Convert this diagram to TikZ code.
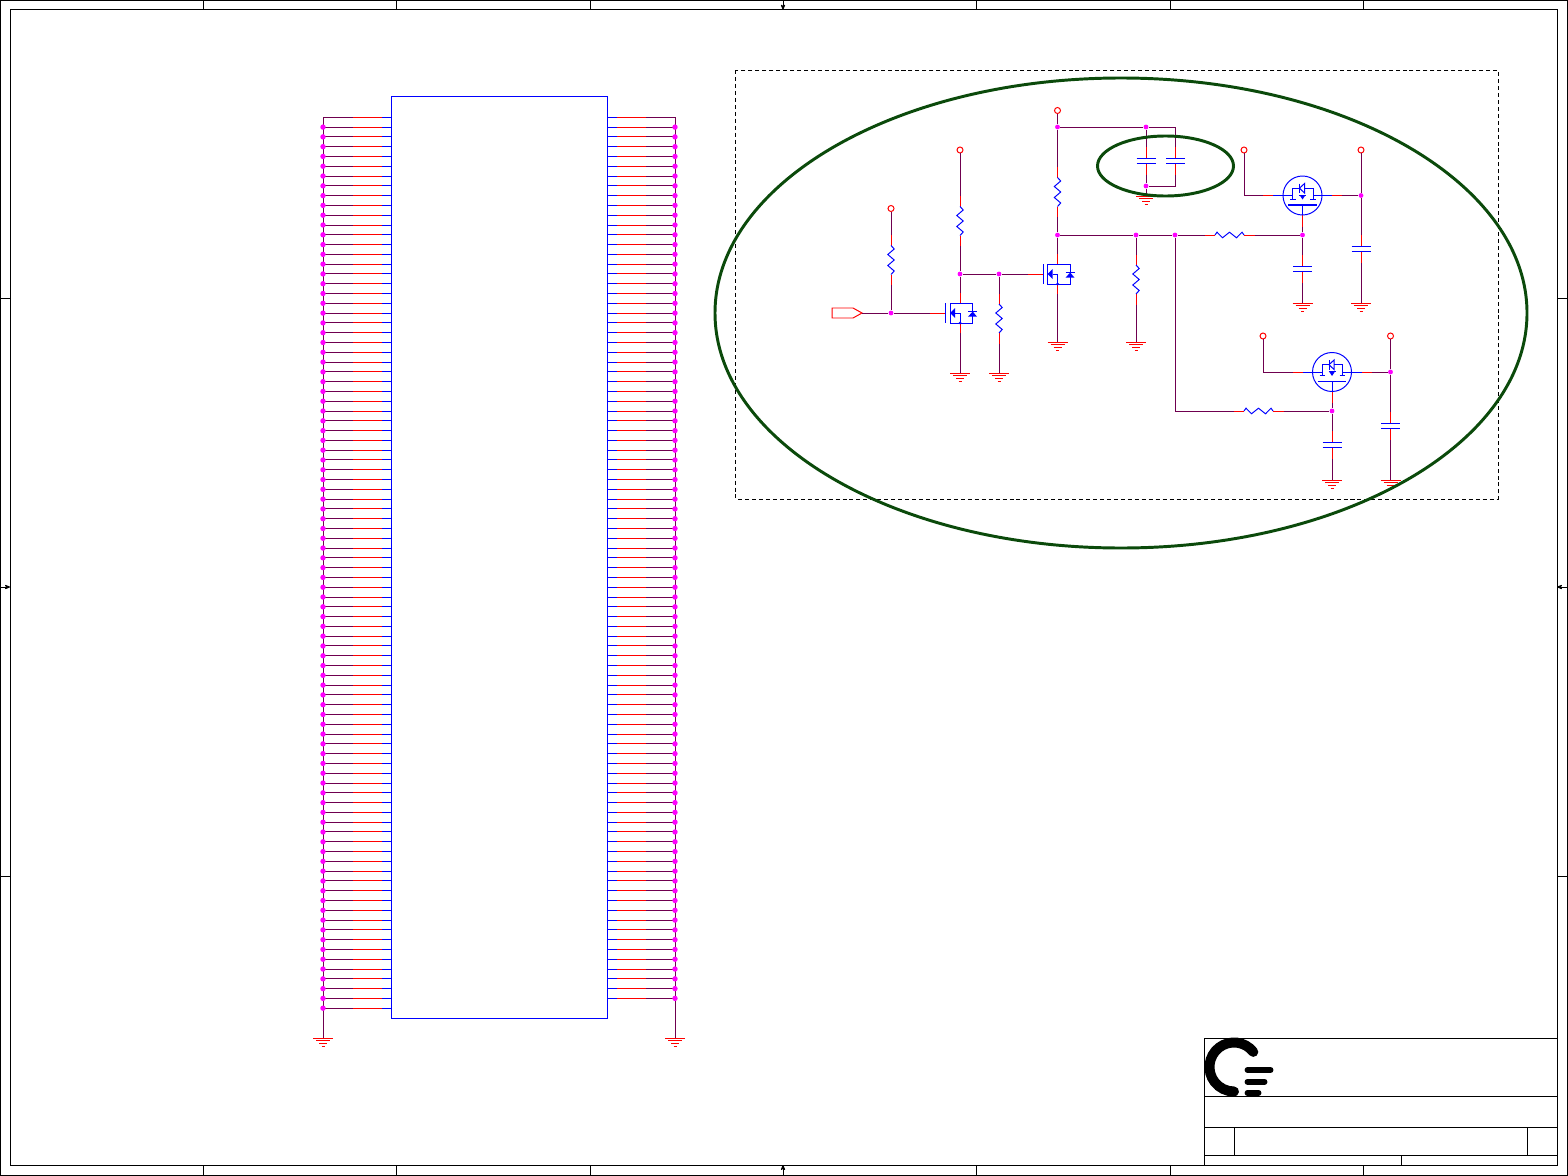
\documentclass[tikz,border=0pt]{standalone}
\usetikzlibrary{arrows,calc}
\definecolor{netcol}{HTML}{6F004F}
\definecolor{markcol}{HTML}{0B4A0B}
\definecolor{dotcol}{HTML}{FF00FF}
\begin{document}
\begin{tikzpicture}
        [x=.05cm, y=-.05cm, line width=1.4pt,
        wire/.style={draw=netcol},
        lead/.style={draw=red},
        part/.style={draw=blue},
        frame/.style={draw=black},
        junct/.style={circle,fill=dotcol,inner sep=0pt,minimum size=.24cm},
        bigdot/.style={circle,fill=dotcol,inner sep=0pt,minimum size=.27cm},
        vcc/.style={circle,draw=red,fill=white,inner sep=0pt,minimum size=.3cm},
        connbox/.style={rectangle,draw=blue,inner sep=0pt,minimum width=10.8cm,minimum height=46.1cm},
        arr/.style={->,>=stealth',draw=black},
        markring/.style={draw=markcol,line width=4.2pt},
        logo/.style={draw=black,line cap=round},
        pics/gnd/.style={code={
          \coordinate (-a) at (0,0);
          \draw[lead] (-10,0) -- (10,0) (-7,2.2) -- (7,2.2) (-4,5) -- (4,5) (-1.5,8) -- (1.5,8);}},
        pics/resv/.style={code={
          \coordinate (-a) at (0,-25);
          \coordinate (-b) at (0,25);
          \draw[lead] (-a) -- (0,-14.5) (0,14.5) -- (-b);
          \draw[part] (0,-14.5) -- (3.2,-11) -- (-3.2,-5.5) -- (3.2,0) -- (-3.2,5.5) -- (3.2,11) -- (0,14.5);}},
        pics/resh/.style={code={
          \coordinate (-a) at (-25,0);
          \coordinate (-b) at (25,0);
          \draw[lead] (-a) -- (-14.5,0) (14.5,0) -- (-b);
          \draw[part] (-14.5,0) -- (-12.5,-2.8) -- (-7,2.8) -- (0,-2.8) -- (7,2.8) -- (12.5,-2.8) -- (14.5,0);}},
        pics/capv/.style={code={
          \coordinate (-a) at (0,-14);
          \coordinate (-b) at (0,14);
          \draw[lead] (-a) -- (0,-2.5) (0,2.5) -- (-b);
          \draw[part] (-9.5,-2.5) -- (9.5,-2.5) (-9.5,2.5) -- (9.5,2.5);}},
        pics/nmos/.style={code={
          \coordinate (-g) at (-30,0);
          \coordinate (-d) at (0,-20);
          \coordinate (-s) at (0,20);
          \draw[lead] (-g) -- (-14.5,0) (-d) -- (0,-10) (0,10) -- (-s);
          \draw[part] (-14.5,-10) -- (-14.5,10);
          \draw[part] (-10,-10) rectangle (12.7,10);
          \draw[part] (-5,0) -- (0,0) -- (0,10);
          \fill[blue] (-10,0) -- (-5,-5) -- (-5,5) -- cycle;
          \fill[blue] (0,10) circle (1.5);
          \draw[part] (8,-1.5) -- (17,-1.5);
          \fill[blue] (12.7,-1.5) -- (8,3.7) -- (17,3.7) -- cycle;}},
        pics/pmos/.style={code={
          \coordinate (-l) at (-39.5,0);
          \coordinate (-r) at (39.5,0);
          \coordinate (-g) at (0,31);
          \draw[lead] (-l) -- (-29.5,0) (29.5,0) -- (-r) (0,19.5) -- (-g);
          \draw[part] (0,0) circle (19.5);
          \draw[part] (-29.5,0) -- (-10,0) (10.5,0) -- (29.5,0);
          \draw[part] (-12.5,3.5) -- (-7,3.5) (7.5,3.5) -- (13,3.5);
          \draw[part] (-10,3.5) -- (-10,-7.3) -- (-3,-7.3) (-3,-12) -- (-3,-2.5);
          \draw[part] (-3,-7.3) -- (2,-12) -- (2,-2.5) -- cycle;
          \draw[part] (2,-7.3) -- (10.5,-7.3) -- (10.5,3.5);
          \draw[part] (-3.5,-.5) -- (3.5,-.5) (0,9) -- (0,19.5);
          \fill[blue] (0,4) -- (-3,-.5) -- (3,-.5) -- cycle;
          \draw[part,line width=2.8pt] (-14.3,9.5) -- (14.3,9.5);}}]
        \fill[white] (0,0) rectangle (1568,1176);
        \useasboundingbox (0,0) rectangle (1568,1176);
        % sheet frame
        \draw[frame] (.7,.7) rectangle (1567,1175);
        \draw[frame] (10,9.7) rectangle (1557,1165);
        \foreach \x in {203,396,590,976,1170,1363} {
          \draw[frame] (\x,.7) -- (\x,9.7);
          \draw[frame] (\x,1165) -- (\x,1175);
        }
        \foreach \y in {298,876} {
          \draw[frame] (.7,\y) -- (10,\y);
          \draw[frame] (1557,\y) -- (1567,\y);
        }
        \draw[arr] (783,.7) -- (783,9.7);
        \draw[arr] (783,1175) -- (783,1165);
        \draw[arr] (.7,587) -- (10,587);
        \draw[arr] (1567,587) -- (1557,587);
        % title block
        \draw[frame] (1204.5,1165) -- (1204.5,1038) -- (1557,1038);
        \draw[frame] (1204.5,1096) -- (1557,1096);
        \draw[frame] (1204.5,1127) -- (1557,1127);
        \draw[frame] (1204.5,1155) -- (1557,1155);
        \draw[frame] (1234,1127) -- (1234,1155);
        \draw[frame] (1527,1127) -- (1527,1155);
        \draw[frame] (1401,1155) -- (1401,1165);
        \draw[logo,line width=14.2pt] (1253.3,1051.9) arc[start angle=-38,end angle=-270,radius=24.5];
        \draw[logo,line width=8.4pt] (1247.5,1070) -- (1270.5,1070);
        \draw[logo,line width=8.4pt] (1247.5,1081.7) -- (1264.5,1081.7);
        \draw[logo,line width=8.4pt] (1247.5,1092.8) -- (1258.5,1092.8);
        % connector with its rows
        \node (conn) at (499,557.8) [connbox] {};
        \pic (gndl) at (323,1038.3) {gnd};
        \pic (gndr) at (675,1038.3) {gnd};
        \foreach \i in {0,...,91} {
          \pgfmathsetmacro\rowy{117.3+9.79*\i}
          \coordinate (l\i) at (323,\rowy);
          \coordinate (lm\i) at (353,\rowy);
          \coordinate (ln\i) at (382,\rowy);
          \draw[wire] (l\i) -- (lm\i);
          \draw[lead] (lm\i) -- (ln\i);
          \draw[part] (ln\i) -- (conn.west |- l\i);
        }
        \foreach \i in {0,...,90} {
          \pgfmathsetmacro\rowy{117.3+9.79*\i}
          \coordinate (r\i) at (675,\rowy);
          \coordinate (rm\i) at (646,\rowy);
          \coordinate (rn\i) at (617,\rowy);
          \draw[wire] (r\i) -- (rm\i);
          \draw[lead] (rm\i) -- (rn\i);
          \draw[part] (rn\i) -- (conn.east |- r\i);
        }
        \draw[wire] (323,117.3) -- (gndl-a);
        \draw[wire] (675,117.3) -- (gndr-a);
        \foreach \i in {1,...,91} {
          \node (ld\i) at (323,{117.3+9.79*\i}) [bigdot] {};
        }
        \foreach \i in {1,...,90} {
          \node (rd\i) at (675,{117.3+9.79*\i}) [bigdot] {};
        }
        % dashed area
        \draw[frame,dash pattern=on 5.7pt off 4.2pt] (735.7,70) rectangle (1498,499);
        % supplies
        \node (va) at (891,208.5) [vcc] {};
        \node (vb) at (960,150) [vcc] {};
        \node (vc) at (1057.5,110.5) [vcc] {};
        \node (vd) at (1244,150) [vcc] {};
        \node (ve) at (1361,150) [vcc] {};
        \node (vf) at (1263,336) [vcc] {};
        \node (vg) at (1390.5,336) [vcc] {};
        % junctions
        \node (ja) at (891,313) [junct] {};
        \node (jb) at (960,274) [junct] {};
        \node (jc) at (999,274) [junct] {};
        \node (jd) at (1057.5,127) [junct] {};
        \node (je) at (1057.5,235) [junct] {};
        \node (jf) at (1146,127) [junct] {};
        \node (jg) at (1146,186) [junct] {};
        \node (jh) at (1136,235) [junct] {};
        \node (ji) at (1175,235) [junct] {};
        \node (jj) at (1302.5,235) [junct] {};
        \node (jk) at (1361,195.5) [junct] {};
        \node (jl) at (1332,411) [junct] {};
        \node (jm) at (1390.5,372) [junct] {};
        % parts
        \pic (ra) at (891,260) {resv};
        \pic (rb) at (960,221) {resv};
        \pic (rc) at (999,318.5) {resv};
        \pic (rd) at (1057.5,192) {resv};
        \pic (re) at (1136,279.5) {resv};
        \pic (rf) at (1229.5,235) {resh};
        \pic (rg) at (1258.5,411) {resh};
        \pic (ca) at (1146,160.5) {capv};
        \pic (cb) at (1175.5,160.5) {capv};
        \pic (cc) at (1302.5,269) {capv};
        \pic (cd) at (1361,249) {capv};
        \pic (ce) at (1332,445) {capv};
        \pic (cf) at (1390.5,426) {capv};
        \pic (ga) at (960,373) {gnd};
        \pic (gb) at (999,373) {gnd};
        \pic (gc) at (1057.5,342) {gnd};
        \pic (gd) at (1136,342) {gnd};
        \pic (ge) at (1146,196) {gnd};
        \pic (gf) at (1302.5,303.3) {gnd};
        \pic (gg) at (1361,303.3) {gnd};
        \pic (gh) at (1332,480) {gnd};
        \pic (gi) at (1390.5,480) {gnd};
        \pic (ma) at (960,313) {nmos};
        \pic (mb) at (1057.5,274) {nmos};
        \pic (qa) at (1302.5,195.5) {pmos};
        \pic (qb) at (1332,372) {pmos};
        % input port
        \coordinate (port) at (862,313);
        \draw[lead] (port) -- (853,318) -- (832,318) -- (832,308) -- (853,308) -- cycle;
        % nets
        \draw[wire] (port) -- (ja);
        \draw[wire] (ja) -- (ma-g);
        \draw[wire] (ja) -- (ra-b);
        \draw[wire] (ra-a) -- (va);
        \draw[wire] (vb) -- (rb-a);
        \draw[wire] (rb-b) -- (jb);
        \draw[wire] (jb) -- (ma-d);
        \draw[wire] (ma-s) -- (ga-a);
        \draw[wire] (jb) -- (jc);
        \draw[wire] (jc) -- (mb-g);
        \draw[wire] (jc) -- (rc-a);
        \draw[wire] (rc-b) -- (gb-a);
        \draw[wire] (vc) -- (jd);
        \draw[wire] (jd) -- (rd-a);
        \draw[wire] (rd-b) -- (je);
        \draw[wire] (je) -- (mb-d);
        \draw[wire] (mb-s) -- (gc-a);
        \draw[wire] (jd) -- (jf);
        \draw[wire] (jf) -| (cb-a);
        \draw[wire] (jf) -- (ca-a);
        \draw[wire] (ca-b) -- (jg);
        \draw[wire] (jg) -- (ge-a);
        \draw[wire] (jg) -| (cb-b);
        \draw[wire] (je) -- (jh);
        \draw[wire] (jh) -- (ji);
        \draw[wire] (ji) -- (rf-a);
        \draw[wire] (rf-b) -- (jj);
        \draw[wire] (jh) -- (re-a);
        \draw[wire] (re-b) -- (gd-a);
        \draw[wire] (ji) |- (rg-a);
        \draw[wire] (rg-b) -- (jl);
        \draw[wire] (qa-g) -- (jj);
        \draw[wire] (jj) -- (cc-a);
        \draw[wire] (cc-b) -- (gf-a);
        \draw[wire] (vd) |- (qa-l);
        \draw[wire] (qa-r) -- (jk);
        \draw[wire] (jk) -- (ve);
        \draw[wire] (jk) -- (cd-a);
        \draw[wire] (cd-b) -- (gg-a);
        \draw[wire] (qb-g) -- (jl);
        \draw[wire] (jl) -- (ce-a);
        \draw[wire] (ce-b) -- (gh-a);
        \draw[wire] (vf) |- (qb-l);
        \draw[wire] (qb-r) -- (jm);
        \draw[wire] (jm) -- (vg);
        \draw[wire] (jm) -- (cf-a);
        \draw[wire] (cf-b) -- (gi-a);
        % marked areas
        \draw[markring] (1121,313) ellipse [x radius=406,y radius=235];
        \draw[markring] (1165.5,166) ellipse [x radius=68,y radius=30];
      \end{tikzpicture}
\end{document}
